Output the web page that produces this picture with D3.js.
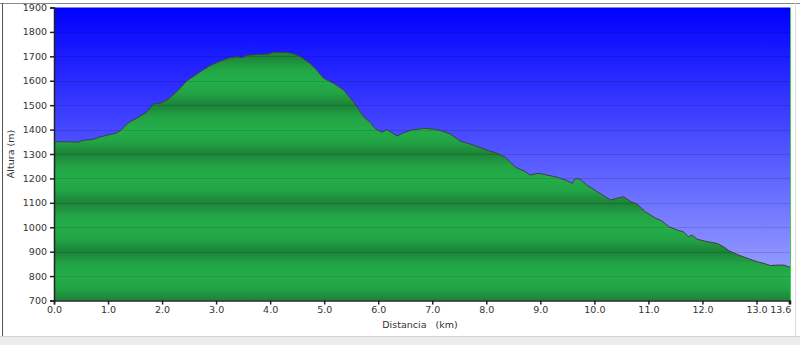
<!DOCTYPE html>
<html>
<head>
<meta charset="utf-8">
<script src="https://cdn.jsdelivr.net/npm/d3@7"></script>
<style>
  body { margin: 0; background: #fff; }
  #chart { width: 800px; height: 345px; }
  text { font-family: "DejaVu Sans", Verdana, sans-serif; }
</style>
</head>
<body>
<div id="chart"></div>
<script>
// distance along route (km) and altitude (m)
var distance = [0.00, 0.20, 0.45, 0.54, 0.73, 0.85, 1.04, 1.16, 1.25, 1.38, 1.53, 1.72, 1.84, 1.96, 2.09, 2.27, 2.46, 2.70, 2.89, 3.07,
    3.26, 3.40, 3.48, 3.57, 3.75, 3.97, 4.06, 4.31, 4.43, 4.56, 4.74, 4.86, 4.99, 5.17, 5.36, 5.54, 5.73, 5.85, 5.94, 6.07,
    6.16, 6.25, 6.35, 6.47, 6.62, 6.84, 7.02, 7.18, 7.33, 7.52, 7.70, 7.89, 8.01, 8.20, 8.35, 8.54, 8.72, 8.81, 8.97, 9.12,
    9.31, 9.49, 9.59, 9.65, 9.74, 9.86, 10.05, 10.30, 10.42, 10.54, 10.67, 10.79, 10.94, 11.13, 11.25, 11.38, 11.53, 11.65, 11.74, 11.81,
    11.90, 12.09, 12.27, 12.39, 12.49, 12.67, 12.83, 13.01, 13.14, 13.26, 13.38, 13.51, 13.62];
var altitude = [1350, 1350, 1349, 1356, 1360, 1370, 1380, 1386, 1400, 1428, 1446, 1473, 1505, 1508, 1521, 1555, 1600, 1636, 1662, 1680,
    1695, 1698, 1694, 1704, 1708, 1710, 1717, 1716, 1711, 1699, 1671, 1644, 1610, 1590, 1562, 1514, 1453, 1430, 1405, 1389,
    1400, 1387, 1374, 1387, 1398, 1405, 1402, 1394, 1382, 1353, 1341, 1327, 1316, 1303, 1287, 1246, 1228, 1214, 1221, 1214,
    1205, 1191, 1180, 1200, 1196, 1173, 1146, 1112, 1119, 1125, 1105, 1095, 1064, 1037, 1026, 1002, 989, 981, 961, 968,
    951, 941, 934, 920, 904, 886, 873, 859, 852, 843, 845, 845, 836];

var xTicks = [0, 1, 2, 3, 4, 5, 6, 7, 8, 9, 10, 11, 12, 13, 13.6];
var yTicks = [700, 800, 900, 1000, 1100, 1200, 1300, 1400, 1500, 1600, 1700, 1800, 1900];

var width = 800, height = 345;
var margin = {top: 7.5, right: 10, bottom: 44.5, left: 54};

var data = distance.map(function(d, i) { return {km: d, alt: altitude[i]}; });

var svg = d3.select("#chart")
    .append("svg")
    .attr("width", width)
    .attr("height", height);

// window frame around the chart
svg.append("rect").attr("x", 0).attr("y", 336).attr("width", width).attr("height", 9).attr("fill", "#ececec");
svg.append("line").attr("x1", 0).attr("x2", width).attr("y1", 336.5).attr("y2", 336.5).attr("stroke", "#d4d4d4");
svg.append("line").attr("x1", 0).attr("x2", width).attr("y1", 3.5).attr("y2", 3.5).attr("stroke", "#8a8a8a");
svg.append("line").attr("x1", 2.5).attr("x2", 2.5).attr("y1", 3).attr("y2", 336).attr("stroke", "#555");
svg.append("line").attr("x1", 795.5).attr("x2", 795.5).attr("y1", 3).attr("y2", 336).attr("stroke", "#dcdcdc");

var x = d3.scaleLinear().domain([0, 13.62]).range([margin.left, 790]);
var y = d3.scaleLinear().domain([700, 1900]).range([height - margin.bottom, margin.top]);

var defs = svg.append("defs");

var sky = defs.append("linearGradient")
    .attr("id", "sky")
    .attr("gradientUnits", "userSpaceOnUse")
    .attr("x1", 0).attr("x2", 0)
    .attr("y1", y(1900)).attr("y2", y(700));
sky.append("stop").attr("offset", 0).attr("stop-color", "#0000ff");
sky.append("stop").attr("offset", 1).attr("stop-color", "#a6adff");

// green bands repeat every 200 m
var ground = defs.append("linearGradient")
    .attr("id", "ground")
    .attr("gradientUnits", "userSpaceOnUse")
    .attr("spreadMethod", "repeat")
    .attr("x1", 0).attr("x2", 0)
    .attr("y1", y(1600)).attr("y2", y(1400));
ground.append("stop").attr("offset", 0).attr("stop-color", "#24ae4a");
ground.append("stop").attr("offset", 0.25).attr("stop-color", "#22a445");
ground.append("stop").attr("offset", 0.5).attr("stop-color", "#1c8339");
ground.append("stop").attr("offset", 0.75).attr("stop-color", "#22a445");
ground.append("stop").attr("offset", 1).attr("stop-color", "#24ae4a");

svg.append("rect")
    .attr("x", x(0))
    .attr("y", y(1900))
    .attr("width", x(13.62) - x(0))
    .attr("height", y(700) - y(1900))
    .attr("fill", "url(#sky)");

var area = d3.area()
    .x(function(d) { return x(d.km); })
    .y0(y(700))
    .y1(function(d) { return y(d.alt); });

var line = d3.line()
    .x(function(d) { return x(d.km); })
    .y(function(d) { return y(d.alt); });

svg.append("path")
    .datum(data)
    .attr("d", area)
    .attr("fill", "url(#ground)");

// grid
svg.append("g")
    .selectAll("line")
    .data(yTicks.slice(1, -1))
    .enter()
    .append("line")
        .attr("x1", x(0))
        .attr("x2", x(13.62))
        .attr("y1", function(d) { return Math.round(y(d)) + 0.5; })
        .attr("y2", function(d) { return Math.round(y(d)) + 0.5; })
        .attr("stroke", "#000")
        .attr("stroke-opacity", 0.13);

svg.append("path")
    .datum(data)
    .attr("d", line)
    .attr("fill", "none")
    .attr("stroke", "#404040")
    .attr("stroke-width", 1);

// green marker at the end of the track
svg.append("line")
    .attr("x1", x(13.62) + 0.5).attr("x2", x(13.62) + 0.5)
    .attr("y1", y(1900)).attr("y2", y(700))
    .attr("stroke", "#3ccf5a");

var yAxis = svg.append("g")
    .attr("transform", "translate(" + x(0) + ",0)")
    .call(d3.axisLeft(y).tickValues(yTicks).tickSize(4).tickFormat(d3.format("d")));

var xAxis = svg.append("g")
    .attr("transform", "translate(0," + y(700) + ")")
    .call(d3.axisBottom(x).tickValues(xTicks).tickSize(4).tickFormat(d3.format(".1f")));

[yAxis, xAxis].forEach(function(g) {
    g.select(".domain").attr("stroke", "#222").attr("stroke-width", 1.5);
    g.selectAll(".tick line").attr("stroke", "#222").attr("stroke-width", 1.5);
    g.selectAll("text").attr("fill", "#333").attr("font-size", "9.5px")
        .style("font-family", "'DejaVu Sans', Verdana, sans-serif");
});
xAxis.selectAll("text").attr("dy", "0.6em");
// last label sits left of its tick, as in the original
xAxis.selectAll(".tick text")
    .filter(function(d) { return d === 13.6; })
    .attr("x", 2)
    .attr("text-anchor", "end");

svg.append("text")
    .attr("transform", "translate(14," + (y(1300)) + ") rotate(-90)")
    .attr("text-anchor", "middle")
    .attr("fill", "#333")
    .attr("font-size", "9.5px")
    .text("Altura (m)");

svg.append("text")
    .attr("x", 420)
    .attr("y", 328)
    .attr("text-anchor", "middle")
    .attr("fill", "#333")
    .attr("font-size", "9.5px")
    .attr("xml:space", "preserve")
    .style("white-space", "pre")
    .text("Distancia   (km)");
</script>
</body>
</html>
